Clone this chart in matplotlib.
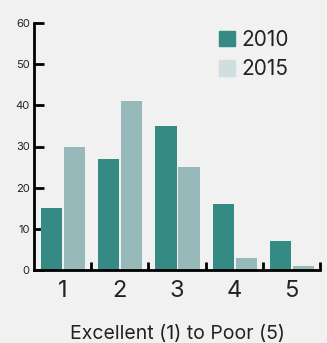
import matplotlib
matplotlib.use("Agg")
import matplotlib.pyplot as plt
from matplotlib.patches import Patch
import numpy as np

categories = ["1", "2", "3", "4", "5"]
values_2010 = [15, 27, 35, 16, 7]
values_2015 = [30, 41, 25, 3, 1]
y_ticks = [0, 10, 20, 30, 40, 50, 60]

plt.rcParams['font.family'] = ['Inter', 'DejaVu Sans']

bg = "#f1f1f1"
c2010 = "#368a84"
c2015 = "#97b9b9"
c2015_legend = "#cfdfdf"

fig = plt.figure(figsize=(3.27, 3.43), dpi=100, facecolor=bg)
ax = fig.add_axes([34/327, 73/343, 286/327, 247/343], facecolor=bg)

x = np.arange(len(categories))
w = 0.37
ax.bar(x + 0.307, values_2010, width=w, color=c2010, zorder=2)
ax.bar(x + 0.71, values_2015, width=w, color=c2015, zorder=2)

ax.set_xlim(0, len(categories))
ax.set_ylim(0, 60)
ax.set_yticks(y_ticks)
ax.set_yticklabels([str(t) for t in y_ticks], fontsize=8, color="#222222")
ax.set_xticks(np.arange(1, len(categories) + 1))
ax.set_xticklabels([])
ax.set_xticks(x + 0.5, minor=True)
ax.set_xticklabels(categories, minor=True, fontsize=17, color="#222222")
ax.tick_params(axis="x", which="minor", length=0, pad=7)
ax.tick_params(axis="x", which="major", direction="in", length=6, width=2)
ax.tick_params(axis="y", direction="in", length=7, width=2, pad=3)

for s in ["top", "right"]:
    ax.spines[s].set_visible(False)
for s in ["left", "bottom"]:
    ax.spines[s].set_linewidth(2)
    ax.spines[s].set_zorder(3)

ax.set_xlabel("Excellent (1) to Poor (5)", fontsize=14, color="#222222", labelpad=17)

handles = [Patch(color=c2010, label="2010"), Patch(color=c2015_legend, label="2015")]
ax.legend(handles=handles, loc="upper right", bbox_to_anchor=(0.955, 1.048), frameon=False,
          fontsize=15, handlelength=0.75, handleheight=0.75, handletextpad=0.3, labelspacing=0.45,
          labelcolor="#222222")

fig.savefig("out.png", dpi=100, facecolor=bg)
